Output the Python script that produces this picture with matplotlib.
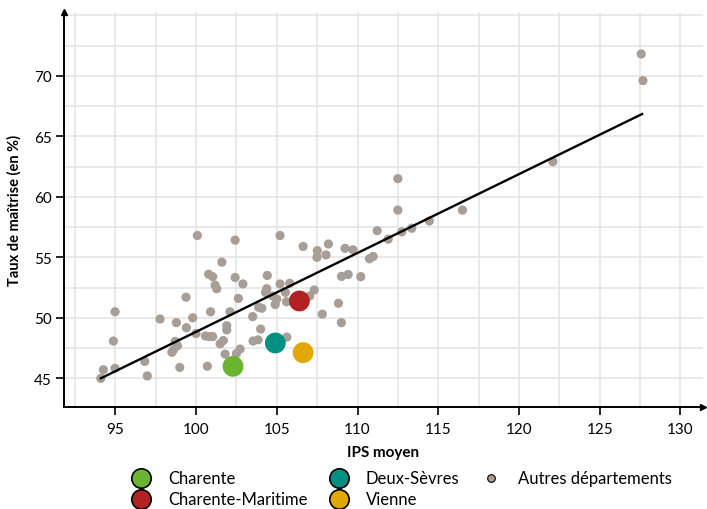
import matplotlib
matplotlib.use("Agg")
import matplotlib.pyplot as plt
from matplotlib.lines import Line2D
import numpy as np

# Autres départements (IPS moyen, taux de maîtrise)
autres_ips = [94.10, 94.26, 94.98, 94.88, 94.98, 96.82, 96.98, 97.77, 98.78, 99.40,
              99.38, 98.70, 98.85, 98.60, 98.50, 98.99, 99.79, 100.00, 100.08, 100.70,
              100.58, 100.82, 101.03, 100.90, 100.78, 101.03, 101.18, 101.28, 101.60, 101.49,
              101.69, 101.90, 101.90, 101.80, 102.10, 102.50, 102.73, 102.42, 102.42, 102.62,
              102.90, 103.51, 103.53, 103.84, 104.00, 103.88, 104.07, 104.41, 104.38, 104.30,
              105.20, 105.20, 104.75, 104.90, 105.00, 105.62, 105.80, 105.53, 105.60, 106.63,
              107.04, 107.32, 107.82, 107.51, 107.49, 108.05, 108.20, 108.82, 109.00, 109.01,
              109.42, 109.23, 109.72, 110.20, 110.74, 110.97, 111.22, 111.90, 112.50, 112.50,
              112.74, 113.36, 114.45, 116.50, 122.10, 127.57, 127.68]
autres_taux = [45.00, 45.71, 45.83, 48.08, 50.50, 46.40, 45.20, 49.90, 49.60, 49.18,
               51.70, 48.05, 47.70, 47.35, 47.15, 45.90, 50.00, 48.70, 56.80, 46.00,
               48.50, 48.45, 48.45, 50.50, 53.60, 53.40, 52.70, 52.40, 54.60, 47.85,
               48.12, 49.35, 49.00, 47.00, 50.50, 47.05, 47.42, 56.42, 53.33, 51.60,
               52.80, 50.10, 48.08, 48.18, 49.07, 50.87, 50.79, 53.50, 52.40, 52.10,
               56.80, 52.80, 51.80, 51.10, 51.55, 48.40, 52.85, 52.10, 51.33, 55.90,
               51.80, 52.30, 50.30, 55.55, 55.00, 55.20, 56.10, 51.20, 49.60, 53.42,
               53.58, 55.74, 55.62, 53.40, 54.88, 55.07, 57.20, 56.50, 61.50, 58.90,
               57.10, 57.40, 58.00, 58.90, 62.90, 71.80, 69.60]

# Départements de l'académie
deps = ["Charente", "Charente-Maritime", "Deux-Sèvres", "Vienne"]
deps_ips = [102.29, 106.40, 104.91, 106.63]
deps_taux = [45.99, 51.39, 47.92, 47.12]
deps_colors = ["#6ab42f", "#b22222", "#009081", "#e0a800"]

# Droite de tendance
trend_ips = [94.10, 127.63]
trend_taux = [45.00, 66.84]

gray = "#a89e98"

plt.rcParams["font.family"] = ["Lato", "DejaVu Sans"]

fig = plt.figure(figsize=(7.07, 5.10), dpi=100)
ax = fig.add_axes([64 / 707, 1 - 408 / 510, 639 / 707, 395.5 / 510])

ax.scatter(autres_ips, autres_taux, s=44, color=gray, edgecolors="none", zorder=3)
ax.plot(trend_ips, trend_taux, color="black", lw=1.7, zorder=4)
ax.scatter(deps_ips, deps_taux, s=225, c=deps_colors, edgecolors="none", zorder=5)

ax.set_xlim(91.82, 131.4)
ax.set_ylim(42.63, 75.31)

# grille tous les 2,5
ax.set_xticks(np.arange(95, 131, 5))
ax.set_yticks(np.arange(45, 71, 5))
ax.set_xticks(np.arange(92.5, 131, 2.5), minor=True)
ax.set_yticks(np.arange(45, 75.1, 2.5), minor=True)
ax.grid(which="both", color="#e3e3e3", lw=1.1, zorder=0)
ax.set_axisbelow(True)

for s in ["top", "right"]:
    ax.spines[s].set_visible(False)
for s in ["left", "bottom"]:
    ax.spines[s].set_linewidth(1.4)
    ax.spines[s].set_color("black")

ax.tick_params(which="major", length=6, width=1.2, labelsize=11, pad=3)
ax.tick_params(axis="x", which="major", pad=5)
ax.tick_params(which="minor", length=0)

# flèches au bout des axes
ax.plot(1, 0, ">", color="black", ms=5, transform=ax.transAxes, clip_on=False)
ax.plot(0, 1, "^", color="black", ms=5, transform=ax.transAxes, clip_on=False)

ax.set_xlabel("IPS moyen", fontsize=11, fontweight="bold", labelpad=6)
ax.set_ylabel("Taux de maîtrise (en %)", fontsize=10.5, fontweight="bold", labelpad=9)

handles = [Line2D([], [], marker="o", ls="none", ms=14, markerfacecolor=c,
                  markeredgecolor="black", markeredgewidth=1.2, label=d)
           for d, c in zip(deps, deps_colors)]
handles.append(Line2D([], [], marker="o", ls="none", ms=5.5, markerfacecolor=gray,
                      markeredgecolor="black", markeredgewidth=0.8,
                      label="Autres départements"))
fig.legend(handles=handles, loc="upper center", bbox_to_anchor=(0.563, 0.092),
           ncol=3, frameon=False, fontsize=12, handletextpad=0.6,
           columnspacing=0.9, labelspacing=0.3, borderpad=0)

fig.savefig("out.png", dpi=100)
